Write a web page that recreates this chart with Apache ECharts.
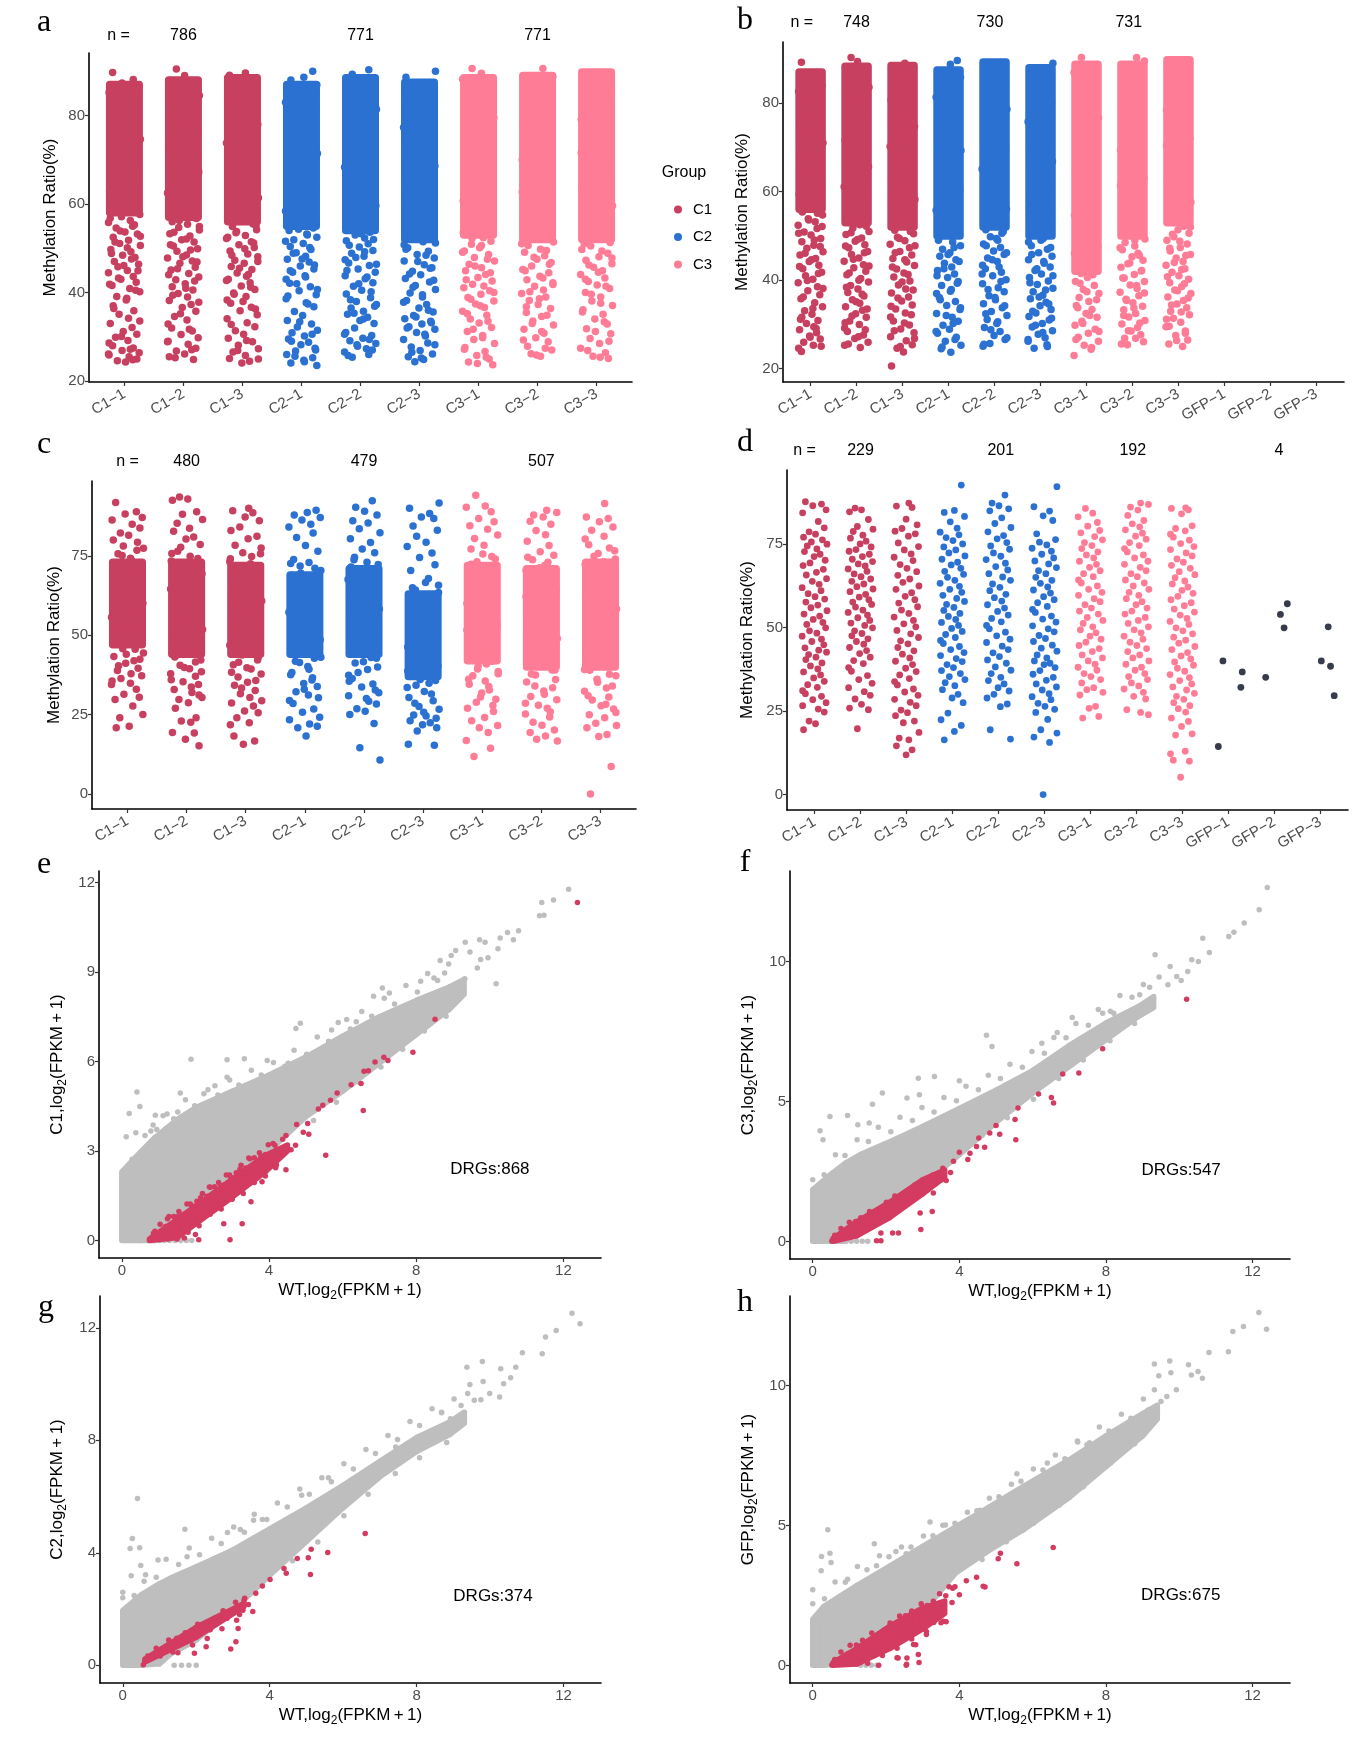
<!DOCTYPE html>
<html>
<head>
<meta charset="utf-8">
<script src="https://cdn.jsdelivr.net/npm/echarts@6/dist/echarts.min.js"></script>
<style>
html, body { margin: 0; padding: 0; background: #fff; }
#main { width: 1361px; height: 1739px; }
</style>
</head>
<body>
<div id="main"></div>
<script>
// ---- categories / labels ----
var catsA = ['C1\u22121', 'C1\u22122', 'C1\u22123', 'C2\u22121', 'C2\u22122', 'C2\u22123', 'C3\u22121', 'C3\u22122', 'C3\u22123'];
var catsB = catsA.concat(['GFP\u22121', 'GFP\u22122', 'GFP\u22123']);
var groupNames = ['C1', 'C2', 'C3'];

// "n =" rows: text and x position (category index)
var nTextA = ['n =', '786', '771', '771'];
var nXA = [-0.1, 1, 4, 7];
var nTextB = ['n =', '748', '730', '731'];
var nXB = [-0.19, 1, 3.9, 6.92];
var nTextC = ['n =', '480', '479', '507'];
var nXC = [0, 1, 4, 7];
var nTextD = ['n =', '229', '201', '192', '4'];
var nXD = [-0.22, 1, 4.05, 6.92, 10.1];
var drgText = ['DRGs:868', 'DRGs:547', 'DRGs:374', 'DRGs:675'];
var drgPos = [[10.0, 2.37], [10.05, 2.54], [10.08, 2.47], [10.04, 2.5]];

// jitter offsets (category units), reused per column
var JIT = [-0.2, 0.15, -0.04, 0.25, -0.26, 0.08, 0.21, -0.12, 0.02, -0.24, 0.17, -0.07, 0.27, -0.16, 0.05, -0.22,
  0.12, -0.01, 0.23, -0.1, -0.25, 0.19, 0.04, -0.18, 0.26, -0.05, 0.1, -0.27, 0.14, -0.14, 0.01, 0.22,
  -0.19, 0.07, -0.08, 0.27, -0.23, 0.11, -0.03, 0.18, -0.17, 0.24, -0.11, 0.05, -0.27, 0.15, -0.06, 0.2,
  -0.21, 0.09, 0.26, -0.13, 0.03, -0.19, 0.16, -0.09, 0.07, -0.24, 0.13, -0.02, 0.21, -0.15, 0.06, -0.26];

// ---- panel a: dense core [low, high] per column + point values ----
var coreA = [[58, 87], [57, 88], [56, 88.5], [55, 87], [54, 88.5], [52, 87.5], [53, 88.5], [52, 89], [52, 89.8]];
var stripA = [
  [89.7, 88.1, 87.3, 86.5, 85.2, 84.1, 82.9, 81.4, 80.2, 78.8, 77.5, 76.3, 74.6, 73.1, 71.8, 70.2, 68.7, 67.3, 65.9, 64.2, 62.8, 61.1, 59.7, 58.4,
   57.6, 57.1, 56.3, 55.8, 55.0, 54.6, 53.7, 53.2, 52.5, 51.8, 51.1, 50.6, 49.7, 49.2, 48.4, 47.9, 47.0, 46.4, 45.8, 45.0, 44.5, 43.6, 43.0, 42.3,
   41.6, 40.9, 40.2, 39.1, 38.3, 37.0, 35.9, 35.1, 34.2, 33.0, 32.1, 31.2, 30.6, 29.9, 29.2, 28.6, 28.0, 27.5, 26.9, 26.4, 25.9, 25.5, 25.0, 24.6, 24.3],
  [90.5, 89.0, 87.9, 86.8, 85.6, 84.5, 83.3, 81.9, 80.6, 79.1, 77.8, 76.2, 74.9, 73.3, 71.7, 70.4, 68.9, 67.2, 65.8, 64.1, 62.5, 60.9, 59.3, 57.8,
   56.7, 56.0, 55.4, 54.7, 54.1, 53.3, 52.8, 51.9, 51.4, 50.5, 49.9, 49.3, 48.5, 47.8, 47.1, 46.6, 45.7, 45.1, 44.3, 43.5, 42.9, 42.0, 41.3, 40.6,
   39.8, 39.0, 38.2, 37.3, 36.6, 35.8, 34.6, 33.8, 32.9, 32.0, 31.3, 30.5, 29.8, 29.0, 28.3, 27.4, 26.8, 26.1, 25.5, 24.9],
  [89.6, 89.1, 88.3, 87.2, 86.0, 84.7, 83.6, 82.2, 80.9, 79.4, 78.0, 76.6, 75.1, 73.8, 72.2, 70.7, 69.3, 67.6, 66.2, 64.6, 63.0, 61.4, 59.8, 58.1, 56.7,
   55.5, 54.9, 54.2, 53.5, 52.9, 52.2, 51.5, 50.8, 50.2, 49.4, 48.7, 48.1, 47.3, 46.6, 45.9, 45.2, 44.4, 43.7, 43.0, 42.2, 41.5, 40.7, 39.9, 39.1,
   38.3, 37.6, 36.7, 35.9, 35.0, 34.1, 33.2, 32.3, 31.4, 30.6, 29.7, 28.9, 28.1, 27.3, 26.6, 25.8, 25.1, 24.5, 24.1],
  [90.0, 88.6, 88.0, 86.9, 85.7, 84.4, 83.0, 81.6, 80.1, 78.7, 77.2, 75.8, 74.3, 72.9, 71.4, 70.0, 68.5, 67.1, 65.6, 64.2, 62.7, 61.3, 59.8, 58.4, 56.9, 55.6,
   54.6, 54.0, 53.2, 52.5, 51.9, 51.1, 50.4, 49.7, 49.0, 48.2, 47.5, 46.9, 46.0, 45.3, 44.6, 43.8, 43.0, 42.1, 41.3, 40.4, 39.5, 38.6, 37.7, 36.8,
   35.7, 34.8, 33.7, 32.9, 32.2, 31.5, 30.9, 30.2, 29.5, 28.8, 28.2, 27.4, 26.8, 26.0, 25.3, 24.7, 24.1, 23.5],
  [90.3, 89.3, 88.2, 87.1, 85.8, 84.3, 82.9, 81.4, 79.9, 78.5, 77.0, 75.6, 74.1, 72.7, 71.2, 69.8, 68.3, 66.9, 65.4, 64.0, 62.5, 61.1, 59.6, 58.2, 56.7, 55.3,
   53.6, 53.0, 52.3, 51.7, 51.0, 50.3, 49.5, 48.9, 48.2, 47.4, 46.7, 46.1, 45.3, 44.6, 43.8, 43.1, 42.2, 41.4, 40.5, 39.7, 38.8, 38.0, 37.3, 36.5,
   35.8, 35.1, 34.4, 33.7, 33.0, 32.0, 31.0, 30.3, 29.7, 29.1, 28.5, 27.9, 27.3, 26.6, 26.0, 25.4],
  [90.0, 88.6, 87.3, 86.0, 84.6, 83.1, 81.7, 80.2, 78.8, 77.3, 75.9, 74.4, 73.0, 71.5, 70.1, 68.6, 67.2, 65.7, 64.3, 62.8, 61.4, 59.9, 58.5, 57.0, 55.6, 54.1, 52.7,
   51.5, 50.8, 50.1, 49.3, 48.6, 47.8, 47.1, 46.3, 45.6, 44.8, 44.0, 43.2, 42.4, 41.6, 40.7, 39.9, 39.0, 38.2, 37.3, 36.5, 35.6, 34.8, 34.1, 33.5,
   32.9, 32.3, 31.7, 31.0, 30.2, 29.4, 28.6, 27.7, 26.9, 26.1, 25.5, 24.9, 24.4],
  [90.6, 89.5, 88.2, 86.8, 85.3, 83.9, 82.4, 81.0, 79.5, 78.1, 76.6, 75.2, 73.7, 72.3, 70.8, 69.4, 67.9, 66.5, 65.0, 63.6, 62.1, 60.7, 59.2, 57.8, 56.3, 54.9, 53.5,
   52.4, 51.6, 50.9, 50.1, 49.4, 48.6, 47.9, 47.1, 46.4, 45.6, 44.9, 44.1, 43.4, 42.6, 41.9, 41.1, 40.4, 39.6, 38.9, 38.1, 37.4, 36.6, 35.8, 34.9,
   34.0, 33.1, 32.1, 31.2, 30.3, 29.4, 28.5, 27.6, 26.7, 25.8, 25.0, 24.3, 23.7],
  [90.6, 88.8, 87.4, 85.9, 84.5, 83.0, 81.6, 80.1, 78.7, 77.2, 75.8, 74.3, 72.9, 71.4, 70.0, 68.5, 67.1, 65.6, 64.2, 62.7, 61.3, 59.8, 58.4, 56.9, 55.5, 54.0, 52.6,
   51.4, 50.6, 49.8, 49.1, 48.3, 47.5, 46.8, 46.0, 45.2, 44.5, 43.7, 42.9, 42.2, 41.4, 40.6, 39.8, 39.0, 38.2, 37.3, 36.4, 35.5, 34.6, 33.6, 32.7,
   31.7, 30.8, 29.8, 28.9, 27.9, 27.0, 26.2, 25.6],
  [89.6, 88.1, 86.6, 85.1, 83.6, 82.1, 80.6, 79.1, 77.6, 76.1, 74.6, 73.1, 71.6, 70.1, 68.6, 67.1, 65.6, 64.1, 62.6, 61.1, 59.6, 58.1, 56.6, 55.1, 53.6, 52.3,
   51.3, 50.5, 49.7, 48.9, 48.1, 47.3, 46.5, 45.7, 44.9, 44.1, 43.3, 42.5, 41.7, 40.9, 40.0, 39.0, 38.1, 37.1, 36.1, 35.1, 34.0, 32.9, 31.8, 30.7,
   29.6, 28.5, 27.4, 26.4, 25.6, 25.1]
];
var extraA = [
  [56.8, 55.3, 53.9, 52.7, 51.4, 50.1, 48.8, 47.6, 46.1, 44.9, 43.3, 41.9, 40.5, 38.7, 36.4, 33.6, 30.1, 27.2, 26.1, 24.8],
  [56.3, 54.9, 53.6, 52.1, 50.8, 49.6, 48.1, 46.9, 45.4, 44.0, 42.6, 41.0, 39.4, 37.8, 35.2, 31.7, 28.9, 27.1, 25.3],
  [55.1, 53.8, 52.5, 51.2, 49.9, 48.4, 47.0, 45.5, 44.1, 42.7, 41.2, 39.6, 38.0, 36.3, 32.8, 29.2, 26.9, 25.0],
  [54.3, 53.0, 51.6, 50.2, 48.9, 47.6, 46.2, 44.9, 43.5, 42.0, 40.7, 39.2, 37.4, 33.4, 30.6, 29.0, 27.0, 25.6, 24.4],
  [53.3, 52.0, 50.7, 49.2, 47.9, 46.4, 45.0, 43.5, 42.0, 40.2, 38.4, 36.9, 35.3, 34.0, 30.6, 29.4, 28.2, 27.0, 25.8],
  [51.2, 49.8, 48.4, 47.0, 45.5, 44.2, 42.8, 41.2, 39.5, 37.8, 36.0, 34.5, 33.2, 32.0, 30.6, 28.2, 26.5, 25.2],
  [52.2, 50.6, 49.1, 47.5, 46.0, 44.5, 42.9, 41.5, 40.0, 38.5, 37.0, 35.2, 33.5, 31.7, 29.8, 27.2, 25.4, 24.0],
  [51.0, 49.5, 48.0, 46.4, 44.9, 43.3, 41.8, 40.2, 38.6, 36.8, 34.9, 33.0, 31.2, 29.3, 27.4, 25.9],
  [51.0, 49.4, 47.8, 46.2, 44.6, 43.0, 41.4, 39.6, 37.6, 35.6, 33.4, 31.2, 29.0, 26.9, 25.4]
];

// ---- panel b ----
var coreB = [[56, 87], [53, 88.3], [52, 88.5], [50, 87.5], [52, 89.3], [50, 88], [42, 88.8], [50, 88.8], [53, 89.8]];
var stripB = [
  [89.2, 86.9, 85.5, 84.0, 82.6, 81.1, 79.7, 78.2, 76.8, 75.3, 73.9, 72.4, 71.0, 69.5, 68.1, 66.6, 65.2, 63.7, 62.3, 60.8, 59.4, 57.9, 56.5,
   55.4, 54.7, 53.9, 53.2, 52.4, 51.7, 50.9, 50.2, 49.4, 48.7, 47.9, 47.2, 46.4, 45.7, 44.9, 44.2, 43.4, 42.6, 41.8, 41.0, 40.2, 39.4, 38.5,
   37.6, 36.7, 35.8, 34.9, 34.0, 33.1, 32.3, 31.6, 30.9, 30.2, 29.5, 28.8, 28.1, 27.4, 26.7, 26.0, 25.3, 24.6, 23.9],
  [90.3, 89.4, 88.1, 86.6, 85.1, 83.6, 82.1, 80.6, 79.1, 77.6, 76.1, 74.6, 73.1, 71.6, 70.1, 68.6, 67.1, 65.6, 64.1, 62.6, 61.1, 59.6, 58.1, 56.6, 55.1, 53.6,
   52.5, 51.8, 51.0, 50.3, 49.5, 48.8, 48.0, 47.3, 46.5, 45.8, 45.0, 44.3, 43.5, 42.8, 42.0, 41.2, 40.4, 39.6, 38.8, 38.0, 37.2, 36.4, 35.6,
   34.8, 34.0, 33.2, 32.4, 31.6, 30.8, 30.0, 29.2, 28.4, 27.6, 26.8, 26.0, 25.3, 24.8],
  [89.0, 88.2, 86.7, 85.2, 83.7, 82.2, 80.7, 79.2, 77.7, 76.2, 74.7, 73.2, 71.7, 70.2, 68.7, 67.2, 65.7, 64.2, 62.7, 61.2, 59.7, 58.2, 56.7, 55.2, 53.7, 52.4,
   51.3, 50.5, 49.7, 48.9, 48.1, 47.3, 46.5, 45.7, 44.9, 44.1, 43.3, 42.5, 41.6, 40.7, 39.8, 38.9, 38.0, 37.1, 36.2, 35.3, 34.4, 33.5, 32.6,
   31.7, 30.8, 29.9, 29.0, 28.1, 27.2, 26.3, 25.4, 24.6, 23.8, 20.6],
  [89.6, 88.8, 87.3, 85.8, 84.3, 82.8, 81.3, 79.8, 78.3, 76.8, 75.3, 73.8, 72.3, 70.8, 69.3, 67.8, 66.3, 64.8, 63.3, 61.8, 60.3, 58.8, 57.3, 55.8, 54.3, 52.8, 51.3,
   49.4, 48.6, 47.8, 47.0, 46.2, 45.4, 44.6, 43.8, 43.0, 42.2, 41.4, 40.6, 39.7, 38.8, 37.9, 37.0, 36.1, 35.2, 34.3, 33.4, 32.5, 31.6, 30.7,
   29.8, 28.9, 28.0, 27.1, 26.2, 25.3, 24.5, 23.7],
  [89.1, 87.6, 86.1, 84.6, 83.1, 81.6, 80.1, 78.6, 77.1, 75.6, 74.1, 72.6, 71.1, 69.6, 68.1, 66.6, 65.1, 63.6, 62.1, 60.6, 59.1, 57.6, 56.1, 54.6, 53.1,
   51.4, 50.6, 49.8, 49.0, 48.2, 47.4, 46.6, 45.8, 45.0, 44.2, 43.4, 42.6, 41.8, 41.0, 40.1, 39.2, 38.3, 37.4, 36.5, 35.6, 34.7, 33.8, 32.9,
   32.0, 31.1, 30.2, 29.3, 28.4, 27.5, 26.6, 25.7, 25.1],
  [89.0, 87.8, 86.3, 84.8, 83.3, 81.8, 80.3, 78.8, 77.3, 75.8, 74.3, 72.8, 71.3, 69.8, 68.3, 66.8, 65.3, 63.8, 62.3, 60.8, 59.3, 57.8, 56.3, 54.8, 53.3, 51.8, 50.5,
   49.4, 48.6, 47.8, 47.0, 46.2, 45.4, 44.6, 43.8, 43.0, 42.2, 41.4, 40.6, 39.8, 39.0, 38.2, 37.4, 36.6, 35.8, 35.0, 34.2, 33.4, 32.6, 31.8,
   31.0, 30.2, 29.4, 28.6, 27.8, 27.0, 26.2, 25.4, 24.6],
  [90.3, 88.6, 86.9, 85.2, 83.5, 81.8, 80.1, 78.4, 76.7, 75.0, 73.3, 71.6, 69.9, 68.2, 66.5, 64.8, 63.1, 61.4, 59.7, 58.0, 56.3, 54.6, 52.9, 51.2, 49.5, 47.8, 46.1, 44.4, 42.7,
   41.5, 40.6, 39.7, 38.8, 37.9, 37.0, 36.1, 35.2, 34.3, 33.4, 32.5, 31.6, 30.7, 29.8, 28.9, 28.0, 27.1, 26.2, 25.3, 24.4, 23.0],
  [90.3, 89.5, 88.6, 87.0, 85.4, 83.8, 82.2, 80.6, 79.0, 77.4, 75.8, 74.2, 72.6, 71.0, 69.4, 67.8, 66.2, 64.6, 63.0, 61.4, 59.8, 58.2, 56.6, 55.0, 53.4, 51.8, 50.4,
   49.3, 48.5, 47.7, 46.9, 46.1, 45.3, 44.5, 43.7, 42.9, 42.1, 41.3, 40.5, 39.7, 38.9, 38.1, 37.3, 36.5, 35.7, 34.9, 34.1, 33.3, 32.5, 31.7,
   30.9, 30.1, 29.3, 28.5, 27.7, 26.9, 26.1, 25.4],
  [89.6, 88.0, 86.4, 84.8, 83.2, 81.6, 80.0, 78.4, 76.8, 75.2, 73.6, 72.0, 70.4, 68.8, 67.2, 65.6, 64.0, 62.4, 60.8, 59.2, 57.6, 56.0, 54.4, 53.2,
   52.2, 51.4, 50.6, 49.8, 49.0, 48.2, 47.4, 46.6, 45.8, 45.0, 44.2, 43.4, 42.6, 41.8, 41.0, 40.2, 39.4, 38.6, 37.8, 37.0, 36.2, 35.4, 34.6,
   33.8, 33.0, 32.2, 31.4, 30.5, 29.5, 28.5, 27.5, 26.5, 25.6, 25.0]
];
var extraB = [
  [55.1, 53.6, 52.1, 50.6, 49.1, 47.6, 46.1, 44.6, 43.1, 41.5, 39.9, 38.1, 36.2, 33.6, 31.2, 29.1, 27.1, 25.1],
  [52.2, 50.7, 49.2, 47.7, 46.2, 44.7, 43.2, 41.6, 40.0, 38.4, 36.8, 35.1, 33.5, 31.9, 30.4, 28.8, 27.2, 25.6],
  [51.0, 49.4, 47.8, 46.2, 44.6, 43.0, 41.3, 39.6, 37.8, 36.0, 34.1, 32.2, 30.3, 28.6, 26.8, 25.0],
  [49.0, 47.4, 45.8, 44.2, 42.6, 41.0, 39.3, 37.5, 35.6, 33.8, 32.0, 30.2, 28.4, 26.6, 24.9],
  [51.0, 49.4, 47.8, 46.2, 44.6, 43.0, 41.4, 39.7, 37.9, 36.1, 34.2, 32.4, 30.6, 28.8, 27.0, 25.5],
  [49.0, 47.4, 45.8, 44.2, 42.6, 41.0, 39.4, 37.8, 36.2, 34.6, 33.0, 31.4, 29.8, 28.2, 26.6, 25.0],
  [41.2, 39.3, 37.4, 35.6, 33.8, 32.0, 30.2, 28.4, 26.6, 24.8],
  [49.0, 47.3, 45.6, 43.9, 42.2, 40.5, 38.8, 37.1, 35.4, 33.7, 32.0, 30.3, 28.6, 26.9, 25.6],
  [52.0, 50.4, 48.8, 47.2, 45.6, 44.0, 42.4, 40.8, 39.2, 37.6, 36.0, 34.4, 32.8, 31.2, 29.6, 28.0, 26.4]
];

// ---- panel c ----
var coreC = [[47, 73], [44, 73], [44, 72], [44, 69], [44, 71], [37, 63], [42, 72], [40, 71], [40, 73]];
var stripC = [
  [91.8, 88.9, 88.2, 87.1, 86.3, 85.0, 83.8, 82.2, 81.5, 80.0, 79.3, 78.1, 77.4, 75.7, 74.3, 72.8, 71.5, 70.0, 68.6, 67.1, 65.8, 64.3, 62.9, 61.4, 60.1,
   58.6, 57.2, 55.7, 54.4, 52.9, 51.5, 50.0, 48.7, 47.2, 45.8, 44.4, 43.3, 42.0, 41.2, 39.6, 38.9, 37.3, 36.4, 34.9, 34.5, 33.0, 31.4, 30.5, 29.8,
   27.7, 25.1, 24.0, 21.4, 20.9],
  [93.6, 92.9, 92.5, 88.9, 88.1, 86.5, 85.3, 83.7, 82.8, 81.0, 80.3, 78.6, 77.7, 75.8, 74.2, 72.6, 71.0, 69.4, 67.8, 66.2, 64.6, 63.0, 61.4, 59.8,
   58.2, 56.6, 55.0, 53.4, 51.8, 50.2, 48.6, 47.0, 45.4, 43.8, 42.2, 40.6, 39.5, 37.9, 37.1, 35.4, 34.5, 32.9, 32.0, 30.4, 29.8, 28.8, 27.0, 24.0,
   23.0, 22.6, 19.4, 19.2, 17.3, 15.2],
  [90.0, 89.2, 88.6, 87.3, 86.1, 84.1, 83.0, 81.2, 80.4, 78.4, 77.5, 76.0, 74.8, 73.2, 71.7, 70.1, 68.6, 67.0, 65.5, 63.9, 62.4, 60.8, 59.3, 57.7,
   56.2, 54.6, 53.1, 51.5, 50.0, 48.4, 46.9, 45.3, 43.8, 42.2, 40.7, 39.4, 37.8, 36.9, 35.2, 34.3, 32.6, 31.6, 30.4, 28.7, 27.7, 26.2, 25.6, 24.0,
   22.5, 21.8, 18.3, 16.7, 15.7],
  [89.4, 88.7, 87.9, 87.1, 86.3, 85.0, 84.1, 82.2, 80.8, 78.3, 76.5, 73.9, 72.9, 71.8, 70.4, 68.9, 67.5, 66.0, 64.6, 63.1, 61.7, 60.2, 58.8, 57.3,
   55.9, 54.4, 53.0, 51.5, 50.1, 48.6, 47.2, 45.7, 44.3, 42.8, 41.4, 39.3, 37.6, 36.6, 34.8, 33.9, 32.2, 31.2, 29.5, 28.5, 26.8, 25.8, 24.2, 23.4,
   22.1, 21.4, 20.9, 18.3],
  [92.4, 90.3, 89.1, 87.9, 86.1, 85.4, 83.6, 82.3, 80.4, 79.2, 77.2, 76.0, 73.8, 72.3, 70.7, 69.2, 67.6, 66.1, 64.5, 63.0, 61.4, 59.9, 58.3, 56.8,
   55.2, 53.7, 52.1, 50.6, 49.0, 47.5, 45.9, 44.4, 42.8, 41.3, 39.2, 37.4, 36.4, 34.7, 33.7, 31.9, 31.0, 29.2, 28.4, 26.9, 26.1, 25.1, 22.2, 14.6, 10.7],
  [91.7, 90.0, 88.4, 87.3, 86.8, 84.4, 83.1, 81.2, 79.3, 78.0, 75.9, 74.5, 72.2, 70.4, 67.9, 65.8, 64.3, 62.8, 61.3, 59.8, 58.3, 56.8, 55.3, 53.8,
   52.3, 50.8, 49.3, 47.8, 46.3, 44.8, 43.3, 41.8, 40.3, 38.8, 37.3, 35.8, 34.3, 32.3, 30.4, 29.4, 27.6, 26.7, 24.9, 24.6, 23.1, 22.5, 21.8, 20.9,
   19.9, 15.7, 15.4],
  [94.1, 90.7, 90.3, 88.9, 86.8, 85.8, 84.5, 83.4, 81.6, 80.5, 78.4, 77.2, 74.8, 73.2, 71.5, 69.9, 68.2, 66.6, 64.9, 63.3, 61.6, 60.0, 58.3, 56.7,
   55.0, 53.4, 51.7, 50.1, 48.4, 46.8, 45.1, 43.5, 41.8, 40.2, 38.6, 37.3, 35.6, 34.6, 32.8, 31.8, 29.9, 28.9, 27.0, 26.0, 24.1, 23.1, 21.6, 20.9,
   19.4, 16.9, 14.4, 11.8],
  [89.4, 88.7, 87.9, 87.3, 85.9, 85.0, 83.0, 81.7, 79.6, 78.3, 76.3, 75.2, 73.8, 72.1, 70.5, 68.8, 67.2, 65.5, 63.9, 62.2, 60.6, 58.9, 57.3, 55.6,
   54.0, 52.3, 50.7, 49.0, 47.4, 45.7, 44.1, 42.4, 40.8, 39.1, 37.5, 35.3, 33.5, 32.5, 30.7, 29.7, 28.0, 27.0, 25.2, 24.3, 22.6, 21.7, 20.2, 19.4,
   18.3, 17.3, 16.7],
  [91.5, 87.3, 86.8, 85.8, 84.1, 83.1, 81.2, 80.3, 78.5, 77.5, 75.8, 74.0, 72.3, 70.5, 68.8, 67.0, 65.3, 63.5, 61.8, 60.0, 58.3, 56.5, 54.8, 53.0,
   51.3, 49.5, 47.8, 46.0, 44.3, 42.5, 40.8, 39.0, 37.3, 35.2, 33.4, 32.4, 30.6, 29.6, 27.8, 26.8, 25.0, 24.0, 22.3, 21.6, 20.9, 18.8, 18.1, 8.7, 0]
];
var extraC = [
  [76.8, 75.1, 73.6, 72.0, 45.6, 44.0, 42.5, 40.4, 37.9, 35.6],
  [76.5, 74.9, 73.4, 43.2, 41.6, 39.9, 38.5, 36.0, 33.7, 31.2],
  [75.7, 74.1, 72.5, 43.0, 41.5, 39.8, 38.4, 35.8, 33.4, 29.4],
  [72.6, 71.1, 69.6, 43.1, 41.8, 40.2, 38.3, 35.9, 33.0, 30.3],
  [74.6, 73.0, 71.5, 43.0, 41.7, 40.0, 38.3, 35.5, 32.8, 30.1],
  [66.6, 65.0, 63.5, 36.1, 34.9, 33.6, 31.5, 28.6, 25.8, 23.9],
  [75.6, 74.0, 72.4, 41.0, 39.4, 37.9, 36.2, 33.9, 30.6, 27.9],
  [74.6, 73.0, 71.3, 39.1, 37.8, 36.1, 34.0, 31.4, 28.6, 25.9],
  [76.6, 74.9, 73.2, 39.2, 37.7, 36.2, 34.0, 31.0, 28.3, 25.7]
];

// ---- panel d (all points) ----
var stripD = [
  [87.6, 86.9, 86.4, 85.2, 84.3, 81.7, 79.8, 78.6, 77.9, 77.0, 76.2, 75.6, 74.9, 74.4, 73.5, 72.7, 71.9, 71.2, 70.1, 69.3, 68.5, 67.4, 66.5, 65.7,
   64.6, 63.8, 62.9, 61.9, 61.0, 60.1, 59.2, 58.5, 57.6, 56.7, 55.9, 55.0, 54.0, 53.4, 52.4, 51.5, 50.9, 49.9, 49.0, 48.3, 47.4, 46.5, 45.8, 44.8,
   43.9, 43.2, 42.6, 41.9, 41.1, 40.4, 39.4, 38.5, 37.6, 36.7, 35.8, 34.9, 33.9, 32.9, 32.1, 31.1, 30.2, 29.4, 28.4, 27.5, 26.6, 25.6, 24.7, 22.0, 21.2, 19.4],
  [85.7, 85.2, 84.6, 82.3, 80.2, 79.4, 78.7, 77.6, 76.7, 75.8, 75.0, 74.1, 73.3, 72.8, 71.9, 71.2, 70.4, 69.7, 69.0, 68.4, 67.5, 66.8, 66.0, 65.2,
   64.5, 63.8, 63.0, 62.2, 61.5, 60.7, 59.9, 59.1, 58.3, 57.6, 56.9, 56.1, 55.2, 54.5, 53.7, 52.9, 52.1, 51.3, 50.6, 49.9, 49.0, 48.2, 47.5, 46.6,
   45.8, 45.0, 44.0, 43.1, 42.2, 41.1, 40.1, 39.2, 38.0, 36.9, 35.6, 34.4, 33.3, 32.0, 30.8, 29.7, 28.6, 27.0, 25.9, 25.4, 19.7],
  [87.2, 86.3, 85.9, 82.4, 80.7, 79.6, 78.8, 78.0, 77.3, 75.3, 74.2, 73.2, 72.0, 71.0, 70.0, 68.8, 67.7, 66.7, 65.6, 64.5, 63.5, 62.4, 61.4, 60.4,
   59.3, 58.3, 57.3, 56.2, 55.2, 54.2, 53.1, 52.1, 51.1, 50.2, 49.1, 48.1, 47.0, 46.0, 45.1, 44.0, 43.0, 42.0, 40.9, 39.9, 38.9, 37.8, 36.8, 35.8,
   34.7, 33.8, 32.8, 31.6, 30.7, 29.7, 28.5, 27.6, 26.6, 25.3, 24.5, 23.6, 22.0, 21.5, 18.6, 16.9, 16.4, 14.6, 13.4, 11.9],
  [92.6, 85.0, 84.4, 83.2, 81.6, 79.7, 78.5, 77.7, 76.9, 76.0, 75.0, 74.1, 73.2, 72.3, 71.4, 70.4, 69.5, 68.7, 67.7, 66.8, 65.9, 65.0, 64.1, 63.2,
   62.3, 61.4, 60.5, 59.6, 58.7, 57.8, 56.9, 56.0, 55.1, 54.2, 53.3, 52.4, 51.5, 50.6, 49.7, 48.8, 47.9, 47.0, 46.1, 45.2, 44.3, 43.4, 42.5, 41.6,
   40.7, 39.8, 38.9, 38.0, 37.1, 36.2, 35.3, 34.4, 33.5, 32.6, 31.4, 30.0, 28.9, 27.5, 24.4, 22.4, 20.7, 18.9, 16.4],
  [89.6, 87.2, 86.4, 85.5, 84.9, 82.8, 81.1, 79.9, 78.6, 77.5, 76.5, 75.4, 74.4, 73.4, 72.3, 71.3, 70.3, 69.2, 68.2, 67.2, 66.1, 65.1, 64.1, 63.0,
   62.0, 61.0, 59.9, 58.9, 57.9, 56.8, 55.8, 54.8, 53.7, 52.7, 51.7, 50.6, 49.6, 48.6, 47.5, 46.5, 45.5, 44.4, 43.4, 42.4, 41.3, 40.3, 39.3, 38.2,
   37.2, 36.2, 35.1, 34.1, 33.1, 32.0, 31.0, 30.0, 28.9, 27.1, 26.3, 19.4, 16.6],
  [92.1, 86.1, 84.8, 83.4, 82.0, 78.0, 76.3, 75.5, 74.7, 73.7, 72.8, 71.9, 70.8, 69.9, 69.0, 67.9, 67.0, 66.1, 65.0, 64.1, 63.2, 62.1, 61.2, 60.3,
   59.2, 58.3, 57.4, 56.3, 55.4, 54.5, 53.4, 52.5, 51.6, 50.5, 49.6, 48.7, 47.6, 46.7, 45.8, 44.7, 43.8, 42.9, 41.8, 40.9, 40.0, 39.3, 38.9, 38.0,
   37.1, 36.0, 35.1, 34.2, 33.1, 32.2, 31.3, 30.2, 29.3, 28.4, 27.3, 26.4, 25.5, 24.6, 22.5, 19.4, 18.4, 17.2, 15.6, 0.0],
  [85.6, 84.2, 83.1, 81.4, 80.3, 79.0, 78.3, 77.2, 76.2, 75.4, 74.5, 73.6, 72.6, 71.7, 70.8, 69.8, 68.9, 68.0, 67.0, 66.1, 65.2, 64.2, 63.3, 62.4,
   61.4, 60.5, 59.6, 58.6, 57.7, 56.8, 55.8, 54.9, 54.0, 53.0, 52.1, 51.2, 50.2, 49.3, 48.4, 47.4, 46.5, 45.6, 44.6, 43.7, 42.8, 41.8, 40.9, 40.0,
   39.0, 38.1, 37.2, 36.2, 35.3, 34.4, 33.4, 32.0, 31.4, 30.6, 29.8, 26.4, 25.8, 23.4, 22.9],
  [87.2, 86.8, 86.0, 85.1, 83.5, 82.0, 81.0, 80.1, 79.2, 78.2, 77.3, 76.4, 75.4, 74.5, 73.6, 72.6, 71.7, 70.8, 69.8, 68.9, 68.0, 67.0, 66.1, 65.2,
   64.2, 63.3, 62.4, 61.4, 60.5, 59.6, 58.6, 57.7, 56.8, 55.8, 54.9, 54.0, 53.0, 52.1, 51.2, 50.2, 49.3, 48.4, 47.4, 46.5, 45.6, 44.6, 43.7, 42.8,
   41.8, 40.9, 40.0, 39.0, 38.1, 37.2, 36.2, 35.3, 34.4, 33.4, 32.5, 31.6, 30.6, 29.4, 28.6, 25.4, 24.6, 23.9],
  [85.8, 85.6, 85.2, 84.0, 80.4, 79.6, 78.9, 77.9, 77.0, 76.1, 75.1, 74.2, 73.3, 72.3, 71.4, 70.5, 69.5, 68.6, 67.7, 66.7, 65.8, 64.9, 63.9, 63.0,
   62.1, 61.1, 60.2, 59.3, 58.3, 57.4, 56.5, 55.5, 54.6, 53.7, 52.7, 51.8, 50.9, 49.9, 49.0, 48.1, 47.1, 46.2, 45.3, 44.3, 43.4, 42.5, 41.5, 40.6,
   39.7, 38.7, 37.8, 36.9, 35.9, 35.0, 34.1, 33.1, 32.2, 31.3, 30.3, 29.4, 28.5, 27.5, 26.6, 25.7, 24.7, 22.9, 21.9, 20.4, 18.2, 17.8, 13.0, 12.2,
   10.3, 10.0, 5.2]
];
var gfpVals = [[40.0, 14.4, 32.1, 36.7], [35.1, 53.9, 57.1, 49.9], [40.0, 50.2, 38.4, 29.6]];
var gfpJit = [[-0.12, -0.22, 0.27, 0.3], [-0.19, 0.13, 0.28, 0.21], [0.02, 0.17, 0.22, 0.3]];

// ---- panels e-h: dense grey band (x, low, high), DRG ribbon, scattered points ----
var bandXE = [0, 0.5, 0.9, 1.2, 1.5, 2, 3, 4, 5, 6, 7, 8, 8.9, 9.3];
var bandLoE = [0, 0, 0, 0.2, 0.5, 0.9, 1.75, 3.0, 4.15, 5.0, 5.95, 6.9, 7.75, 8.25];
var bandHiE = [2.3, 2.95, 3.45, 3.75, 4.05, 4.45, 5.0, 5.55, 6.15, 6.85, 7.5, 8.05, 8.5, 8.75];
var redBandXE = [0.75, 1.5, 2.1, 3.0, 3.9, 4.5];
var redBandLoE = [0.0, 0.1, 0.64, 1.45, 2.3, 3.0];
var redBandHiE = [0.05, 0.7, 1.24, 2.05, 2.85, 3.2];
var greyE = [[1.88, 6.08], [2.86, 6.06], [3.33, 6.09], [3.95, 6.03], [4.52, 5.94], [4.85, 7.28], [4.73, 7.11], [0.41, 4.98], [0.49, 4.49],
  [0.2, 4.26], [0.91, 4.2], [1.23, 4.24], [1.52, 4.31], [1.59, 4.94], [2.23, 4.92], [2.53, 5.19], [2.86, 5.47], [0.38, 3.61], [0.12, 3.48],
  [0.79, 3.67], [0.85, 3.87], [5.7, 7.06], [6.11, 7.41], [6.37, 7.33], [6.84, 8.19], [7.08, 8.47], [7.27, 8.3], [8.12, 8.69], [8.48, 8.8],
  [8.65, 9.39], [8.77, 8.97], [8.95, 9.56], [9.07, 9.72], [9.32, 8.78], [9.33, 10.0], [9.46, 9.67], [9.66, 9.14], [9.72, 10.08], [9.75, 9.42],
  [9.87, 10.0], [9.95, 9.48], [10.17, 8.61], [10.22, 9.78], [10.28, 10.14], [10.48, 10.33], [10.64, 10.08], [10.78, 10.39], [11.35, 10.89],
  [11.41, 11.33], [11.47, 10.91], [11.73, 11.42], [12.14, 11.78], [1.0, 0], [1.15, 0], [1.3, 0], [1.45, 0], [1.6, 0], [1.75, 0], [1.9, 0],
  [0.28, 2.72], [0.63, 3.52], [0.95, 3.72], [1.12, 4.18], [1.41, 4.08], [1.73, 4.72], [1.98, 4.52], [2.34, 5.05], [2.61, 4.88], [2.93, 5.38],
  [3.18, 5.21], [3.52, 5.71], [3.79, 5.55], [4.12, 5.97], [4.43, 5.84], [4.68, 6.38], [5.02, 6.24], [5.31, 6.82], [5.62, 6.68], [5.88, 7.31],
  [6.21, 7.09], [6.52, 7.68], [6.79, 7.52], [7.13, 8.12], [7.41, 7.93], [7.72, 8.55], [8.03, 8.33], [8.31, 8.95], [8.58, 8.72], [8.88, 9.27],
  [9.12, 8.61], [5.21, 4.02], [5.83, 4.63], [6.42, 5.31], [7.04, 5.82], [7.63, 6.41], [8.22, 7.02], [8.81, 7.52]];
var redE = [[0.78, 0.02], [0.86, 0.24], [0.97, 0.17], [1.04, 0.54], [1.13, 0.19], [1.19, 0.47], [1.28, 0.8], [1.33, 0.23], [1.41, 0.8],
  [1.49, 0.59], [1.55, 0.97], [1.62, 0.59], [1.68, 0.88], [1.77, 1.22], [1.83, 0.86], [1.9, 1.16], [1.98, 0.85], [2.04, 1.31], [2.1, 1.19],
  [2.19, 1.57], [2.25, 1.2], [2.31, 1.48], [2.38, 1.79], [2.44, 1.23], [2.52, 1.8], [2.57, 1.56], [2.63, 1.94], [2.71, 1.57], [2.77, 1.86],
  [2.84, 2.19], [2.9, 1.82], [2.96, 2.11], [3.05, 1.82], [3.11, 2.27], [3.18, 2.16], [3.24, 2.52], [3.31, 2.15], [3.37, 2.43], [3.45, 2.76],
  [3.52, 2.2], [3.6, 2.77], [3.67, 2.55], [3.74, 2.94], [3.82, 2.57], [3.9, 2.88], [3.98, 3.21], [4.07, 2.87], [4.16, 3.19], [4.25, 2.9],
  [0.9, 0.31], [1.08, 0.07], [1.24, 0.73], [1.37, 0.5], [1.52, 0.8], [1.71, 0.59], [1.86, 1.22], [2.0, 1.0], [2.14, 1.43], [2.28, 1.15],
  [2.41, 1.78], [2.55, 1.57], [2.68, 1.84], [2.8, 1.57], [2.93, 2.19], [3.08, 1.97], [3.21, 2.39], [3.34, 2.11], [3.48, 2.74], [3.63, 2.54],
  [3.78, 2.83], [3.94, 2.6], [4.11, 3.25],
  [1.35, 0.12], [1.5, 0.05], [1.65, 0.44], [1.8, 0.27], [1.95, 0.61], [2.1, 0.49], [2.25, 1.01], [2.4, 0.88], [2.55, 1.2], [2.7, 1.05],
  [2.85, 1.39], [3.0, 1.38], [3.15, 1.79], [3.3, 1.57], [3.45, 1.97], [3.6, 1.94], [3.75, 2.3], [3.9, 2.16], [4.05, 2.5], [4.2, 2.53],
  [4.4, 2.91], [4.6, 3.04], [1.05, 0.02], [1.25, 0.05], [1.7, 0.08], [2.0, 0.2],
  [12.38, 11.33], [8.51, 7.42], [7.91, 6.31], [7.12, 6.14], [7.23, 6.03], [6.88, 5.98], [6.7, 5.69], [6.58, 5.67], [6.5, 5.26], [6.23, 5.22],
  [6.56, 4.36], [5.85, 4.94], [5.67, 4.7], [5.46, 4.53], [5.34, 4.41], [5.54, 2.86], [5.08, 3.56], [5.05, 3.92], [4.93, 3.63], [4.75, 3.89],
  [4.72, 3.19], [4.46, 3.52], [4.37, 3.39], [4.16, 2.89], [3.92, 2.72], [4.46, 2.37], [4.18, 2.44], [3.81, 1.97], [3.51, 1.3], [3.27, 0.56],
  [2.94, 0.02], [2.09, 0.02], [2.54, 1.28], [2.77, 0.56]];

var bandXF = [0, 0.5, 0.9, 1.3, 2, 3, 4, 5, 6, 7, 8, 8.9, 9.3];
var bandLoF = [0, 0, 0, 0.5, 1.15, 2.0, 3.1, 4.25, 5.3, 6.25, 7.2, 8.05, 8.35];
var bandHiF = [1.85, 2.4, 2.8, 3.1, 3.5, 4.1, 4.75, 5.4, 6.1, 7.0, 7.8, 8.4, 8.75];
var redBandXF = [0.55, 1.2, 2.1, 3.0, 3.6];
var redBandLoF = [0.0, 0.2, 0.85, 1.7, 2.3];
var redBandHiF = [0.1, 0.7, 1.4, 2.2, 2.55];
var greyF = [[0.2, 3.95], [0.28, 3.63], [0.47, 4.46], [0.95, 4.5], [0, 2.2], [1.23, 4.17], [1.54, 4.23], [1.9, 5.3], [1.63, 4.9],
  [2.57, 5.12], [2.91, 5.24], [2.88, 5.83], [3.32, 5.89], [4.0, 5.74], [4.74, 7.36], [4.89, 6.96], [6.25, 7.08], [6.67, 7.46], [7.08, 8.0],
  [7.91, 8.15], [8.21, 8.15], [8.92, 8.81], [9.19, 9.08], [9.34, 10.24], [9.45, 9.44], [9.75, 9.82], [9.69, 9.17], [9.93, 9.46], [10.05, 9.32],
  [10.23, 9.64], [10.34, 10.06], [10.52, 10.0], [10.64, 10.83], [10.82, 10.32], [11.35, 10.89], [11.49, 11.04], [11.77, 11.37], [12.18, 11.85],
  [12.4, 12.64], [0.9, 0], [1.05, 0], [1.2, 0], [1.35, 0], [1.5, 0],
  [0.31, 2.38], [0.62, 3.09], [0.88, 3.07], [1.21, 3.63], [1.52, 3.57], [1.79, 4.08], [2.13, 3.92], [2.38, 4.43], [2.72, 4.32], [2.98, 4.78],
  [3.31, 4.62], [3.58, 5.14], [3.92, 5.02], [4.18, 5.54], [4.52, 5.42], [4.79, 5.93], [5.12, 5.82], [5.38, 6.33], [5.72, 6.22], [5.98, 6.78],
  [6.32, 6.72], [6.58, 7.28], [6.91, 7.27], [7.18, 7.78], [7.52, 7.72], [7.79, 8.28], [8.12, 8.22], [8.38, 8.78], [8.71, 8.72], [9.02, 9.18],
  [4.62, 3.78], [5.31, 4.42], [6.02, 5.08], [6.71, 5.82], [7.38, 6.48], [8.11, 7.17], [8.78, 7.78]];
var redF = [[0.52, 0.01], [0.6, 0.22], [0.69, 0.15], [0.77, 0.46], [0.85, 0.16], [0.93, 0.41], [1.0, 0.68], [1.08, 0.23], [1.17, 0.71],
  [1.24, 0.53], [1.31, 0.84], [1.4, 0.55], [1.47, 0.8], [1.55, 1.07], [1.62, 0.78], [1.7, 1.04], [1.78, 0.8], [1.85, 1.17], [1.93, 1.09],
  [2.01, 1.4], [2.09, 1.1], [2.17, 1.36], [2.24, 1.62], [2.32, 1.17], [2.4, 1.64], [2.48, 1.47], [2.56, 1.79], [2.63, 1.48], [2.71, 1.74],
  [2.79, 2.02], [2.87, 1.73], [2.95, 1.99], [3.03, 1.75], [3.11, 2.13], [3.2, 2.06], [3.28, 2.37], [3.36, 2.07], [3.45, 2.33], [3.55, 2.61],
  [3.64, 2.17],
  [10.2, 8.65], [7.91, 6.88], [7.26, 6.01], [6.82, 5.98], [6.16, 5.26], [6.51, 5.14], [6.57, 4.94], [5.6, 4.76], [5.52, 4.35], [5.54, 3.63],
  [5.0, 4.14], [5.1, 3.83], [4.83, 3.87], [4.69, 3.36], [4.53, 3.69], [4.47, 3.39], [4.29, 3.15], [4.0, 3.18], [4.23, 2.92], [3.84, 2.86],
  [3.76, 2.46], [3.52, 2.2], [3.29, 1.73], [3.26, 1.07], [2.93, 1.01], [2.95, 0.42], [2.34, 0.3], [2.18, 0.3], [1.86, 0.3], [1.74, 0.02], [1.86, 0.02]];

var bandXG = [0, 0.5, 1, 1.3, 2, 3, 4, 5, 6, 7, 8, 8.9, 9.3];
var bandLoG = [0, 0, 0.05, 0.4, 0.9, 1.95, 3.2, 4.4, 5.6, 6.7, 7.6, 8.2, 8.6];
var bandHiG = [1.95, 2.5, 2.9, 3.1, 3.5, 4.1, 4.85, 5.6, 6.4, 7.25, 8.1, 8.65, 9.0];
var redBandXG = [0.6, 2.0, 3.3];
var redBandLoG = [0.12, 1.0, 2.08];
var redBandHiG = [0.22, 1.35, 2.2];
var greyG = [[0.4, 5.93], [0.26, 4.51], [0.46, 4.18], [0.2, 4.15], [0.49, 3.55], [0.23, 3.18], [0.58, 2.99], [0.96, 3.74], [1.69, 4.84],
  [1.75, 3.86], [2.85, 4.72], [3.2, 4.83], [3.56, 5.16], [3.8, 5.18], [4.87, 6.05], [5.6, 6.67], [6.89, 7.11], [7.43, 7.76], [8.68, 9.0],
  [8.92, 8.77], [9.21, 9.24], [9.39, 9.66], [9.45, 9.98], [9.37, 10.6], [9.57, 9.42], [9.75, 9.44], [9.79, 10.8], [9.81, 10.09], [9.99, 9.66],
  [10.26, 9.54], [10.29, 10.54], [10.37, 10.01], [10.56, 10.22], [10.7, 10.6], [10.88, 11.11], [11.42, 11.08], [11.51, 11.67], [11.8, 11.9],
  [12.23, 12.52], [12.45, 12.14], [0, 2.4], [0, 2.6], [1.4, 0], [1.6, 0], [1.8, 0], [2.0, 0],
  [0.31, 2.48], [0.62, 3.22], [0.91, 3.13], [1.18, 3.77], [1.52, 3.58], [1.81, 4.17], [2.09, 3.93], [2.42, 4.52], [2.68, 4.33], [3.02, 4.92],
  [3.31, 4.73], [3.58, 5.37], [3.92, 5.18], [4.21, 5.77], [4.48, 5.63], [4.82, 6.27], [5.08, 6.08], [5.42, 6.67], [5.68, 6.53], [6.02, 7.17],
  [6.28, 6.98], [6.62, 7.67], [6.88, 7.53], [7.22, 8.17], [7.48, 8.03], [7.82, 8.67], [8.08, 8.53], [8.42, 9.12], [8.68, 8.98], [9.02, 9.47],
  [4.62, 3.72], [5.31, 4.38], [6.02, 5.32], [6.68, 6.08], [7.42, 6.82], [8.08, 7.38], [8.82, 7.92]];
var redG = [[0.56, 0.02], [0.68, 0.33], [0.79, 0.27], [0.91, 0.61], [1.02, 0.33], [1.13, 0.6], [1.25, 0.9], [1.36, 0.47], [1.47, 0.96],
  [1.59, 0.82], [1.7, 1.16], [1.82, 0.89], [1.93, 1.17], [2.04, 1.46], [2.16, 1.2], [2.27, 1.48], [2.38, 1.26], [2.5, 1.67], [2.61, 1.61],
  [2.73, 1.94], [2.84, 1.67], [2.95, 1.94], [3.07, 2.24], [3.18, 1.81], [3.3, 2.3], [3.42, 2.16],
  [1.5, 0.45], [1.9, 0.72], [2.3, 0.95], [2.7, 1.3], [3.1, 1.6],
  [6.6, 4.69], [5.58, 4.01], [5.13, 4.13], [5.05, 3.82], [4.75, 3.8], [5.11, 3.23], [4.45, 3.27], [4.39, 3.44], [4.01, 3.05], [3.8, 2.82],
  [3.62, 2.56], [3.32, 2.38], [3.54, 1.91], [3.27, 1.96], [3.14, 1.31], [2.94, 0.58], [3.08, 0.84], [2.27, 0.66], [1.95, 0.43], [0.76, 0.25]];

var bandXH = [0, 0.3, 1.2, 2.1, 3.0, 3.9, 4.8, 5.75, 7, 8, 9, 9.4];
var bandLoH = [0, 0, 0.1, 0.9, 1.9, 3.3, 4.1, 4.85, 6.0, 7.1, 8.2, 8.8];
var bandHiH = [1.65, 2.1, 2.85, 3.55, 4.25, 4.95, 5.65, 6.4, 7.35, 8.2, 9.0, 9.3];
var redBandXH = [0.55, 1.2, 2.1, 3.0, 3.6];
var redBandLoH = [0.0, 0.05, 0.6, 1.3, 1.85];
var redBandHiH = [0.1, 0.6, 1.4, 2.05, 2.3];
var greyH = [[0.41, 4.85], [0.24, 3.89], [0.47, 4.01], [0.5, 3.68], [0.23, 3.38], [0, 2.7], [0.56, 2.17], [0.95, 3.08], [1.68, 4.35],
  [1.74, 3.56], [2.27, 4.07], [2.55, 3.99], [3.04, 4.2], [3.2, 5.12], [3.55, 5.01], [4.56, 5.54], [5.57, 6.85], [6.4, 7.23], [7.13, 6.45],
  [7.23, 7.98], [7.55, 7.96], [7.9, 7.17], [8.52, 8.06], [9.15, 9.13], [9.32, 10.77], [9.32, 9.85], [9.44, 10.35], [9.5, 9.43], [9.66, 9.61],
  [9.74, 10.88], [9.77, 10.46], [9.92, 9.85], [10.25, 10.74], [10.33, 10.38], [10.51, 10.5], [10.63, 10.26], [10.81, 11.18], [11.34, 11.21],
  [11.46, 11.93], [11.75, 12.11], [12.17, 12.61], [12.38, 12.01], [0, 2.2], [1.3, 0], [1.45, 0], [1.6, 0], [1.75, 0],
  [0.32, 2.38], [0.61, 2.98], [0.89, 2.97], [1.22, 3.53], [1.48, 3.42], [1.82, 3.92], [2.08, 3.88], [2.42, 4.23], [2.68, 4.23], [3.02, 4.62],
  [3.28, 4.63], [3.62, 5.02], [3.88, 5.08], [4.22, 5.47], [4.48, 5.53], [4.82, 5.97], [5.08, 6.03], [5.42, 6.47], [5.68, 6.58], [6.02, 7.02],
  [6.28, 6.98], [6.62, 7.52], [6.88, 7.38], [7.22, 8.02], [7.48, 7.88], [7.82, 8.52], [8.08, 8.38], [8.42, 8.97], [8.68, 8.83], [9.02, 9.52],
  [4.62, 3.78], [5.28, 4.42], [6.02, 5.08], [6.72, 5.72], [7.38, 6.38], [8.12, 7.22], [8.78, 7.92]];
var redH = [[0.52, 0.01], [0.6, 0.21], [0.68, 0.11], [0.77, 0.48], [0.85, 0.11], [0.94, 0.41], [1.02, 0.72], [1.1, 0.16], [1.19, 0.73],
  [1.27, 0.51], [1.36, 0.9], [1.44, 0.52], [1.52, 0.83], [1.61, 1.16], [1.69, 0.8], [1.78, 1.11], [1.86, 0.79], [1.95, 1.26], [2.03, 1.15],
  [2.11, 1.51], [2.2, 1.15], [2.28, 1.44], [2.37, 1.76], [2.45, 1.2], [2.53, 1.77], [2.62, 1.56], [2.7, 1.94], [2.79, 1.57], [2.87, 1.87],
  [2.96, 2.2], [3.04, 1.84], [3.12, 2.14], [3.21, 1.83], [3.29, 2.29], [3.38, 2.19], [3.46, 2.56], [3.55, 2.19], [3.63, 2.49], [3.72, 2.81],
  [3.8, 2.25], [3.88, 2.81],
  [1.3, 0.1], [1.5, 0.08], [1.7, 0.44], [1.9, 0.35], [2.1, 0.69], [2.3, 0.61], [2.5, 1.0], [2.7, 0.94], [2.9, 1.31], [3.1, 1.21], [3.3, 1.53],
  [3.5, 1.52], [2.3, 0.27], [2.9, 0.1], [2.56, 0.04], [2.88, 0.39], [2.75, 0.75], [3.56, 1.58], [4.65, 2.83],
  [6.56, 4.21], [5.57, 3.63], [5.12, 4.01], [5.06, 3.81], [4.7, 2.8], [4.47, 3.15], [4.19, 3.02], [3.82, 2.76], [4.0, 2.52], [3.64, 1.56],
  [3.1, 1.1], [2.81, 0.74], [2.57, 0.26], [2.55, 0], [2.33, 0.26], [1.8, 0]];

// ---- look ----
var groupColors = ['#C8405F', '#2B71D1', '#FF7C96'];
var gfpColor = '#373C4C';
var greyColor = '#BEBEBE';
var redColor = '#D33B61';
var PT = 7.5;      // strip point size (a-c)
var PT_D = 6.8;    // strip point size (d)
var PT2 = 5.5;     // scatter point size
var CORE_W = 0.25; // half width of the solid part of a strip
var fontSans = '"Liberation Sans", Arial, sans-serif';
var subRich = {
    n: { fontSize: 17, color: '#000', lineHeight: 17, verticalAlign: 'top', fontFamily: fontSans },
    s: { fontSize: 12, color: '#000', lineHeight: 12, padding: [8, 0, 0, 0], verticalAlign: 'top', fontFamily: fontSans }
};

var chartDom = document.getElementById('main');
var myChart = echarts.init(chartDom);

var grids = [
    { left: 89, top: 53, width: 543, height: 329 },
    { left: 783, top: 42, width: 561, height: 340 },
    { left: 92, top: 481, width: 544, height: 328 },
    { left: 787, top: 470, width: 561, height: 340 },
    { left: 99, top: 871, width: 502, height: 387 },
    { left: 790, top: 871, width: 500, height: 388 },
    { left: 100, top: 1296, width: 501, height: 387 },
    { left: 790, top: 1296, width: 500, height: 387 }
];
grids.forEach(function (g) { g.containLabel = false; g.outerBoundsMode = 'none'; });

function axisLineStyle() {
    return { show: true, onZero: false, lineStyle: { color: '#000', width: 1.6 } };
}

function stripX(gi, cats) {
    var idx = cats.map(function (c, i) { return i; });
    return {
        type: 'value', gridIndex: gi, min: -0.6, max: cats.length - 0.4,
        axisLine: axisLineStyle(),
        axisTick: { show: true, customValues: idx, length: 4, lineStyle: { color: '#333', width: 1.2 } },
        axisLabel: {
            customValues: idx, rotate: 30, margin: 11, color: '#4D4D4D', fontSize: 15, fontFamily: fontSans,
            formatter: function (v) { return cats[Math.round(v)]; }
        },
        splitLine: { show: false }
    };
}

function fpkmX(gi) {
    return {
        type: 'value', gridIndex: gi, min: -0.62, max: 13.02,
        axisLine: axisLineStyle(),
        axisTick: { show: true, customValues: [0, 4, 8, 12], length: 4, lineStyle: { color: '#333', width: 1.2 } },
        axisLabel: { customValues: [0, 4, 8, 12], margin: 5, color: '#4D4D4D', fontSize: 15, fontFamily: fontSans },
        splitLine: { show: false },
        name: '{n|WT,log}{s|2}{n|(FPKM\u2009+\u20091)}', nameLocation: 'middle', nameGap: 24,
        nameTextStyle: { rich: subRich }
    };
}

function yAx(gi, min, max, ticks, name, gap) {
    return {
        type: 'value', gridIndex: gi, min: min, max: max,
        axisLine: axisLineStyle(),
        axisTick: { show: true, customValues: ticks, length: 4, lineStyle: { color: '#333', width: 1.2 } },
        axisLabel: { customValues: ticks, margin: 4, color: '#4D4D4D', fontSize: 15, fontFamily: fontSans },
        splitLine: { show: false },
        name: name, nameLocation: 'middle', nameGap: gap, nameRotate: 90,
        nameTextStyle: { color: '#000', fontSize: 17, fontFamily: fontSans, rich: subRich }
    };
}

function logName(who) {
    return '{n|' + who + ',log}{s|2}{n|(FPKM\u2009+\u20091)}';
}

// jittered strip points, one scatter series per group, plus solid cores
function stripSeries(gi, cores, vals, extra, size) {
    var out = [];
    if (cores) {
        out.push({
            type: 'custom', name: 'core' + gi, xAxisIndex: gi, yAxisIndex: gi, silent: true, z: 2,
            encode: { x: 0, y: [1, 2] },
            data: cores.map(function (b, c) { return [c, b[0], b[1]]; }),
            renderItem: function (params, api) {
                var c = api.value(0);
                var col = groupColors[Math.floor(c / 3)];
                var p1 = api.coord([c - CORE_W, api.value(2)]);
                var p2 = api.coord([c + CORE_W, api.value(1)]);
                return {
                    type: 'rect',
                    shape: { x: p1[0], y: p1[1], width: p2[0] - p1[0], height: p2[1] - p1[1] },
                    style: { fill: col, stroke: col, lineWidth: size, lineJoin: 'round' }
                };
            }
        });
    }
    for (var g = 0; g < 3; g++) {
        var pts = [];
        for (var c = g * 3; c < g * 3 + 3; c++) {
            var colVals = extra ? vals[c].concat(extra[c]) : vals[c];
            colVals.forEach(function (v, k) {
                pts.push([c + JIT[(k + c * 7) % JIT.length], v]);
            });
        }
        out.push({
            type: 'scatter', name: groupNames[g], xAxisIndex: gi, yAxisIndex: gi, silent: true, z: 3,
            symbolSize: size, itemStyle: { color: groupColors[g], opacity: 1 }, data: pts
        });
    }
    return out;
}

function bandSeries(gi, bx, lo, hi, color, z) {
    return {
        type: 'custom', xAxisIndex: gi, yAxisIndex: gi, silent: true, z: z,
        encode: { x: 0, y: [1, 2] },
        data: bx.map(function (x, i) { return [x, lo[i], hi[i]]; }),
        renderItem: function (params, api) {
            var i = params.dataIndex;
            if (i >= bx.length - 1) return null;
            var pts = [
                api.coord([bx[i], lo[i]]), api.coord([bx[i + 1], lo[i + 1]]),
                api.coord([bx[i + 1], hi[i + 1]]), api.coord([bx[i], hi[i]])
            ];
            return {
                type: 'polygon', shape: { points: pts },
                style: { fill: color, stroke: color, lineWidth: PT2, lineJoin: 'round' }
            };
        }
    };
}

function dotSeries(gi, data, color, z) {
    return {
        type: 'scatter', xAxisIndex: gi, yAxisIndex: gi, silent: true, z: z,
        symbolSize: PT2, itemStyle: { color: color, opacity: 1 }, data: data
    };
}

var series = [];
series = series.concat(stripSeries(0, coreA, stripA, extraA, PT));
series = series.concat(stripSeries(1, coreB, stripB, extraB, PT));
series = series.concat(stripSeries(2, coreC, stripC, extraC, PT));
series = series.concat(stripSeries(3, null, stripD, null, PT_D));
var gfpPts = [];
gfpVals.forEach(function (vs, j) {
    vs.forEach(function (v, k) { gfpPts.push([9 + j + gfpJit[j][k], v]); });
});
series.push({
    type: 'scatter', name: 'GFP', xAxisIndex: 3, yAxisIndex: 3, silent: true, z: 3,
    symbolSize: PT_D, itemStyle: { color: gfpColor, opacity: 1 }, data: gfpPts
});
[[4, bandXE, bandLoE, bandHiE, greyE, redE, redBandXE, redBandLoE, redBandHiE],
 [5, bandXF, bandLoF, bandHiF, greyF, redF, redBandXF, redBandLoF, redBandHiF],
 [6, bandXG, bandLoG, bandHiG, greyG, redG, redBandXG, redBandLoG, redBandHiG],
 [7, bandXH, bandLoH, bandHiH, greyH, redH, redBandXH, redBandLoH, redBandHiH]].forEach(function (p) {
    series.push(bandSeries(p[0], p[1], p[2], p[3], greyColor, 1));
    series.push(dotSeries(p[0], p[4], greyColor, 2));
    series.push(bandSeries(p[0], p[6], p[7], p[8], redColor, 3));
    series.push(dotSeries(p[0], p[5], redColor, 4));
});

var option = {
    animation: false,
    backgroundColor: '#fff',
    textStyle: { fontFamily: fontSans },
    grid: grids,
    legend: {
        data: groupNames, orient: 'vertical', left: 669, top: 197, itemGap: 12.5,
        icon: 'circle', itemWidth: 8, itemHeight: 8, selectedMode: false,
        textStyle: { fontSize: 15, color: '#000', fontFamily: fontSans, padding: [0, 0, 0, 6] }
    },
    xAxis: [stripX(0, catsA), stripX(1, catsB), stripX(2, catsA), stripX(3, catsB), fpkmX(4), fpkmX(5), fpkmX(6), fpkmX(7)],
    yAxis: [
        yAx(0, 19.8, 94.1, [20, 40, 60, 80], 'Methylation Ratio(%)', 30),
        yAx(1, 17, 93.8, [20, 40, 60, 80], 'Methylation Ratio(%)', 32),
        yAx(2, -4.7, 98.6, [0, 25, 50, 75], 'Methylation Ratio(%)', 29),
        yAx(3, -4.6, 97.1, [0, 25, 50, 75], 'Methylation Ratio(%)', 31),
        yAx(4, -0.59, 12.39, [0, 3, 6, 9, 12], logName('C1'), 33),
        yAx(5, -0.63, 13.23, [0, 5, 10], logName('C3'), 33),
        yAx(6, -0.63, 13.13, [0, 4, 8, 12], logName('C2'), 34),
        yAx(7, -0.63, 13.2, [0, 5, 10], logName('GFP'), 33)
    ],
    series: series
};
myChart.setOption(option);

// text placed in data coordinates of each panel
var graphics = [];
function addText(gi, x, y, str, size) {
    var p = myChart.convertToPixel({ xAxisIndex: gi, yAxisIndex: gi }, [x, y]);
    graphics.push({
        type: 'text', x: p[0], y: p[1], silent: true,
        style: { text: str, fontSize: size, fontFamily: fontSans, fill: '#000', align: 'center', verticalAlign: 'middle' }
    });
}
nTextA.forEach(function (t, i) { addText(0, nXA[i], 98, t, 16); });
nTextB.forEach(function (t, i) { addText(1, nXB[i], 98.2, t, 16); });
nTextC.forEach(function (t, i) { addText(2, nXC[i], 104.8, t, 16); });
nTextD.forEach(function (t, i) { addText(3, nXD[i], 103, t, 16); });
drgText.forEach(function (t, i) { addText(4 + i, drgPos[i][0], drgPos[i][1], t, 17); });

// panel letters and legend title
var letters = ['a', 'b', 'c', 'd', 'e', 'f', 'g', 'h'];
var letterPos = [[44, 23], [745, 21], [44, 445], [745, 443], [44, 865], [745, 863], [46, 1308], [745, 1303]];
letters.forEach(function (l, i) {
    graphics.push({
        type: 'text', x: letterPos[i][0], y: letterPos[i][1], silent: true,
        style: { text: l, fontSize: 32, fontFamily: '"Liberation Serif", "Times New Roman", serif', fill: '#000', align: 'center', verticalAlign: 'middle' }
    });
});
graphics.push({
    type: 'text', x: 684, y: 173, silent: true,
    style: { text: 'Group', fontSize: 16, fontFamily: fontSans, fill: '#000', align: 'center', verticalAlign: 'middle' }
});
myChart.setOption({ graphic: graphics });

window.addEventListener('resize', function () {
    myChart.resize();
});
</script>
</body>
</html>
